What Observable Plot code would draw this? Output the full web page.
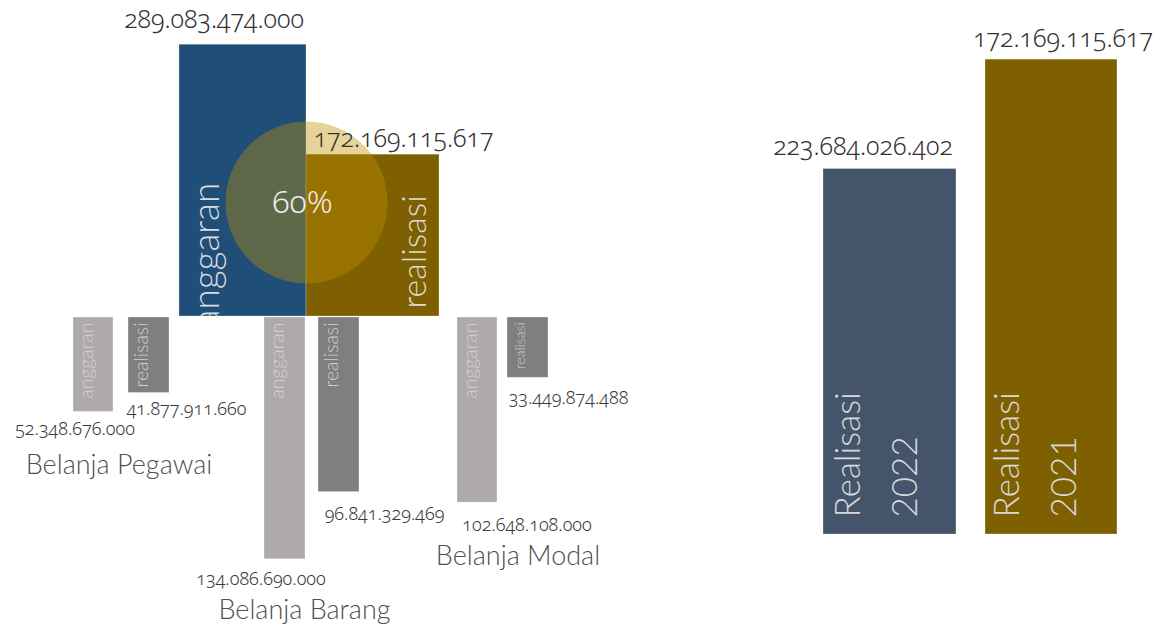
<!DOCTYPE html>
<html><head><meta charset="utf-8">
<script src="https://cdn.jsdelivr.net/npm/d3@7"></script>
<script src="https://cdn.jsdelivr.net/npm/@observablehq/plot@0.6"></script>
<style>
html,body{margin:0;padding:0;background:#fff;}
#chart{position:relative;width:1154px;height:627px;overflow:hidden;}
#chart svg{position:absolute;left:0;top:0;}
</style></head><body><div id="chart"></div>
<script>
// ---------------- DATA ----------------
const mainKinds = ["anggaran", "realisasi"];
const mainValues = [289083474000, 172169115617];

const subCategories = ["Belanja Pegawai", "Belanja Barang", "Belanja Modal"];
const subAnggaran = [52348676000, 134086690000, 102648108000];
const subRealisasi = [41877911660, 96841329469, 33449874488];

const years = ["2022", "2021"];
const yearValues = [172169115617, 223684026402];
const yearValueLabels = ["223.684.026.402", "172.169.115.617"];

// ---------------- LAYOUT / STYLE ----------------
const W = 1154, H = 627;
const FONT = "Lato, 'Noto Sans', sans-serif";
const NUMFONT = "'Noto Sans', Lato, sans-serif";
const fmt = d3.formatLocale({decimal: ",", thousands: ".", grouping: [3], currency: ["", ""]}).format(",d");

const MAIN = {base: 316, pxPerB: 0.94,
  bars: {anggaran: [179, 306], realisasi: [306, 439]},
  fill: {anggaran: "#1f4e79", realisasi: "#7f6000"},
  label: {anggaran: {x: 213.5, dy: -17}, realisasi: {x: 403, dy: -8}},
  inText: {anggaran: {x: 207, dy: 11}, realisasi: {x: 415, dy: -8}},
  circle: {x: 306, y: 202, r: 81}
};
const SUB = {top: 317, pxPerB: 1.803,
  fill: {anggaran: "#aeaaaa", realisasi: "#7f7f7f"},
  inFill: {anggaran: "#d3d0d0", realisasi: "#cfcfcf"},
  cats: {
    "Belanja Pegawai": {anggaran: [73, 113], realisasi: [128, 169], lx: {anggaran: 74.5, realisasi: 186}, ldy: {anggaran: 23, realisasi: 22}, fs: {anggaran: 19.5, realisasi: 19.5}, cx: 118.5, cdy: 62},
    "Belanja Barang": {anggaran: [264, 305], realisasi: [318, 359], lx: {anggaran: 260.5, realisasi: 384}, ldy: {anggaran: 26, realisasi: 28}, fs: {anggaran: 19.5, realisasi: 19.5}, cx: 304, cdy: 60},
    "Belanja Modal": {anggaran: [457, 497], realisasi: [507, 548], lx: {anggaran: 526.5, realisasi: 568}, ldy: {anggaran: 28, realisasi: 26}, fs: {anggaran: 19.5, realisasi: 14}, cx: 517.5, cdy: 62}
  }
};
const YEARS = {base: 534, pxPerB: 2.123,
  bars: {"2022": [823, 956], "2021": [985, 1117]},
  fill: {"2022": "#44546a", "2021": "#7f6000"},
  label: {"2022": {x: 862.5, dy: -14}, "2021": {x: 1062.5, dy: -13}},
  textX: {"2022": 870, "2021": 1029}
};

const chart = document.getElementById("chart");
const common = {width: W, height: H, marginLeft: 0, marginRight: 0,
  x: {domain: [0, W], axis: null}, color: {type: "identity"},
  style: {background: "transparent", fontFamily: FONT}};

// ---------------- PANEL 1: total anggaran vs realisasi ----------------
const mainData = mainKinds.map((k, i) => ({kind: k, value: mainValues[i]}));
const y1Max = MAIN.base / MAIN.pxPerB * 1e9;
const y1Scale = Plot.scale({y: {domain: [0, y1Max], range: [MAIN.base, 0]}});
const circleY = y1Scale.invert(MAIN.circle.y);
const pct = Math.round(mainValues[1] / mainValues[0] * 100) + "%";

const p1 = Plot.plot({...common, marginTop: 0, marginBottom: H - MAIN.base,
  y: {domain: [0, y1Max], axis: null},
  marks: [
    Plot.rect(mainData, {x1: d => MAIN.bars[d.kind][0], x2: d => MAIN.bars[d.kind][1], y1: 0, y2: "value",
      fill: d => MAIN.fill[d.kind], stroke: "#ffffff", strokeOpacity: 0.25, strokeWidth: 1, inset: 0}),
    Plot.dot([pct], {x: () => MAIN.circle.x, y: () => circleY, r: MAIN.circle.r, fill: "#bf9000", fillOpacity: 0.4}),
    ...mainData.map(d => Plot.text([d], {x: () => MAIN.inText[d.kind].x, y: () => 0, text: "kind", rotate: -90,
      textAnchor: "start", lineAnchor: "middle", dy: MAIN.inText[d.kind].dy, fontSize: d.kind === "anggaran" ? 37 : 34, fontWeight: 300, fill: "#dcdcdc", clip: "frame"})),
    ...mainData.map(d => Plot.text([d], {x: () => MAIN.label[d.kind].x, y: "value", text: d => fmt(d.value),
      textAnchor: "middle", lineAnchor: "bottom", dy: MAIN.label[d.kind].dy, fontSize: 25, fontWeight: 300, fill: "#333333", fontFamily: NUMFONT})),
    Plot.text([pct], {x: () => MAIN.circle.x - 4, y: () => circleY, text: d => d, textAnchor: "middle", lineAnchor: "bottom",
      dy: 10, fontSize: 32, fontWeight: 300, fill: "#ecebe6", fontFamily: NUMFONT})
  ]});
chart.appendChild(p1);

// ---------------- PANEL 2: per belanja ----------------
const subData = subCategories.flatMap((c, i) => [
  {cat: c, kind: "anggaran", value: subAnggaran[i]},
  {cat: c, kind: "realisasi", value: subRealisasi[i]}]);
const y2Max = (H - SUB.top) / SUB.pxPerB * 1e9;
const p2 = Plot.plot({...common, marginTop: SUB.top, marginBottom: 0,
  y: {domain: [0, y2Max], reverse: true, axis: null},
  marks: [
    Plot.rect(subData, {x1: d => SUB.cats[d.cat][d.kind][0], x2: d => SUB.cats[d.cat][d.kind][1], y1: 0, y2: "value",
      fill: d => SUB.fill[d.kind], stroke: "#ffffff", strokeOpacity: 0.3, strokeWidth: 1}),
    ...subData.map(d => Plot.text([d], {x: () => SUB.cats[d.cat][d.kind][0] + 13, y: () => 0, text: "kind", rotate: -90,
      textAnchor: "end", lineAnchor: "middle", dy: 5, fontSize: SUB.cats[d.cat].fs[d.kind], fontWeight: 300, fill: SUB.inFill[d.kind]})),
    ...subData.map(d => Plot.text([d], {x: () => SUB.cats[d.cat].lx[d.kind], y: "value", text: d => fmt(d.value),
      textAnchor: "middle", lineAnchor: "bottom", dy: SUB.cats[d.cat].ldy[d.kind], fontSize: 18, fontWeight: 300, fill: "#3a3a3a", fontFamily: NUMFONT})),
    ...subData.filter(d => d.kind === "anggaran").map(d => Plot.text([d], {x: () => SUB.cats[d.cat].cx, y: "value", text: "cat",
      textAnchor: "middle", lineAnchor: "bottom", dy: SUB.cats[d.cat].cdy, fontSize: 27, fontWeight: 300, fill: "#505050"}))
  ]});
chart.appendChild(p2);

// ---------------- PANEL 3: realisasi 2022 vs 2021 ----------------
const yearData = years.map((y, i) => ({year: y, value: yearValues[i], label: yearValueLabels[i]}));
const y3Max = YEARS.base / YEARS.pxPerB * 1e9;
const p3 = Plot.plot({...common, marginTop: 0, marginBottom: H - YEARS.base,
  y: {domain: [0, y3Max], axis: null},
  marks: [
    Plot.rect(yearData, {x1: d => YEARS.bars[d.year][0], x2: d => YEARS.bars[d.year][1], y1: 0, y2: "value",
      fill: d => YEARS.fill[d.year], stroke: "#ffffff", strokeOpacity: 0.3, strokeWidth: 1}),
    ...yearData.map(d => Plot.text([d], {x: () => YEARS.label[d.year].x, y: "value", text: "label",
      textAnchor: "middle", lineAnchor: "bottom", dy: YEARS.label[d.year].dy, fontSize: 25, fontWeight: 300, fill: "#333333", fontFamily: NUMFONT})),
    Plot.text(yearData, {x: d => YEARS.textX[d.year], y: () => 0, text: d => "Realisasi\n" + d.year, rotate: -90,
      textAnchor: "start", lineAnchor: "middle", lineHeight: 1.63, dy: -17, fontSize: 35, fontWeight: 300, fill: "#d9d9d9"})
  ]});
chart.appendChild(p3);

// old-style figures for the formatted numbers
d3.selectAll("#chart text").filter(function() { return /[.%]/.test(this.textContent); })
  .style("font-variant-numeric", "oldstyle-nums");
</script></body></html>
